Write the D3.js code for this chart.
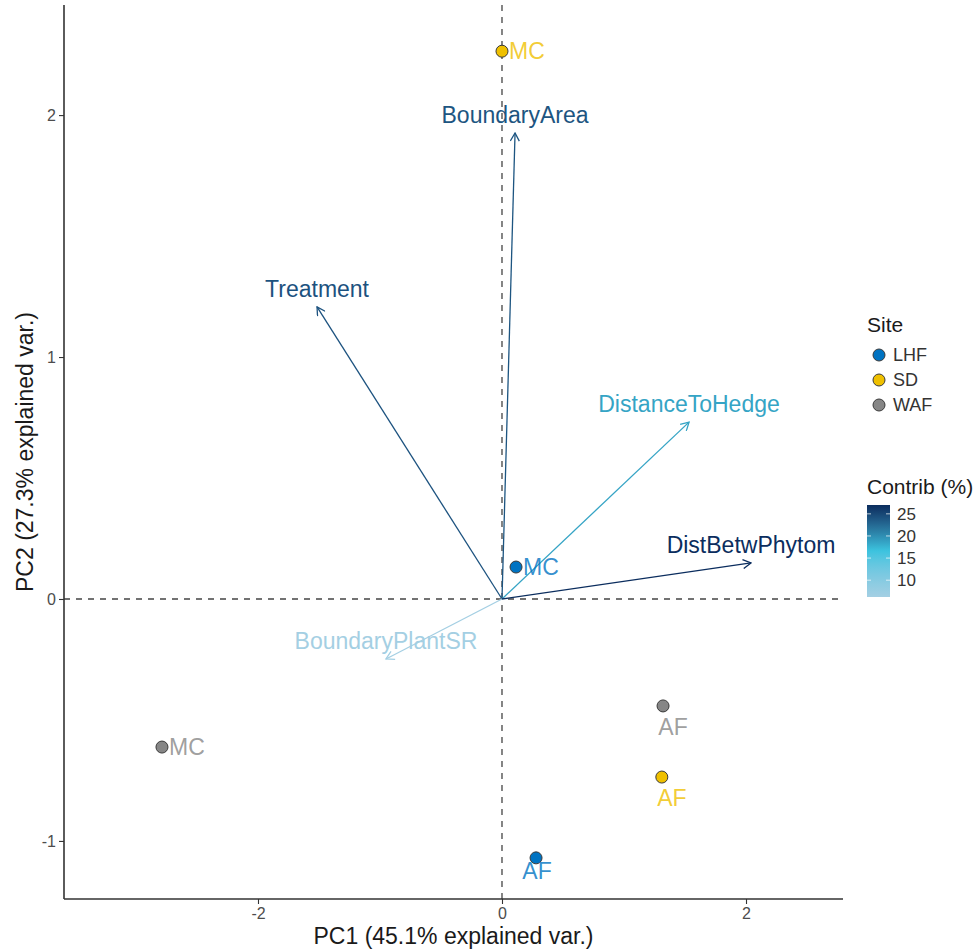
<!DOCTYPE html>
<html>
<head>
<meta charset="utf-8">
<script src="https://cdn.jsdelivr.net/npm/d3@7"></script>
<style>
  body { margin: 0; background: #fff; }
  text { font-family: "Liberation Sans", Arial, sans-serif; }
</style>
</head>
<body>
<div id="chart"></div>
<script>
// PCA biplot: individuals (sites x treatment) + variable arrows coloured by contribution

// individuals
const indLabels = ["MC", "MC", "MC", "AF", "AF", "AF"];
const indSites  = ["SD", "LHF", "WAF", "WAF", "SD", "LHF"];
const indPC1    = [0.00, 0.115, -2.787, 1.32, 1.31, 0.279];
const indPC2    = [2.264, 0.132, -0.612, -0.442, -0.736, -1.07];

// variables
const varNames   = ["BoundaryArea", "Treatment", "DistanceToHedge", "DistBetwPhytom", "BoundaryPlantSR"];
const varPC1     = [0.107, -1.516, 1.533, 2.041, -0.951];
const varPC2     = [1.926, 1.207, 0.731, 0.149, -0.248];
const varContrib = [24.0, 24.2, 18.6, 27.0, 6.2];

// legend / axes
const sites       = ["LHF", "SD", "WAF"];
const siteColors  = ["#0073C2", "#EFC000", "#868686"];
const xTicks      = [-2, 0, 2];
const yTicks      = [-1, 0, 1, 2];
const contribTicks = [10, 15, 20, 25];

const W = 979, H = 949;
const plot = { left: 64, right: 843, top: 5, bottom: 899 };

const svg = d3.select("#chart").append("svg")
  .attr("width", W).attr("height", H);

const x = d3.scaleLinear().domain([-3.59, 2.795]).range([plot.left, plot.right]);
const y = d3.scaleLinear().domain([-1.24, 2.455]).range([plot.bottom, plot.top]);

const siteColor = d3.scaleOrdinal().domain(sites).range(siteColors);

const cExtent = d3.extent(varContrib);
const contribColor = d3.scaleLinear()
  .domain([cExtent[0], (cExtent[0] + cExtent[1]) / 2, cExtent[1]])
  .range(["#a4cfe3", "#3cc3df", "#0b2d5e"])
  .interpolate(d3.interpolateLab);

// reference lines (dashed)
svg.append("line")
  .attr("x1", x(0)).attr("x2", x(0)).attr("y1", plot.top).attr("y2", plot.bottom)
  .attr("stroke", "#444").attr("stroke-width", 1.3).attr("stroke-dasharray", "6,6");
svg.append("line")
  .attr("x1", plot.left).attr("x2", plot.right).attr("y1", y(0)).attr("y2", y(0))
  .attr("stroke", "#444").attr("stroke-width", 1.3).attr("stroke-dasharray", "6,6");

// axes (hyphen minus like R output)
const xAxis = svg.append("g")
  .attr("transform", `translate(0,${plot.bottom})`)
  .call(d3.axisBottom(x).tickValues(xTicks).tickSize(5).tickFormat(d => String(d)));
const yAxis = svg.append("g")
  .attr("transform", `translate(${plot.left},0)`)
  .call(d3.axisLeft(y).tickValues(yTicks).tickSize(5).tickFormat(d => String(d)));

[xAxis, yAxis].forEach(g => {
  g.select(".domain").remove();
  g.selectAll(".tick line").attr("stroke", "#333").attr("stroke-width", 1.1);
  g.selectAll(".tick text").attr("fill", "#4d4d4d").style("font-size", "16px")
    .style("font-family", "'Liberation Sans', Arial, sans-serif");
});
xAxis.selectAll(".tick text").attr("dy", "0.75em");

svg.append("line")
  .attr("x1", plot.left).attr("x2", plot.left).attr("y1", plot.top).attr("y2", plot.bottom)
  .attr("stroke", "#333").attr("stroke-width", 1.6);
svg.append("line")
  .attr("x1", plot.left).attr("x2", plot.right).attr("y1", plot.bottom).attr("y2", plot.bottom)
  .attr("stroke", "#333").attr("stroke-width", 1.6);

// axis titles
svg.append("text")
  .attr("x", (plot.left + plot.right) / 2).attr("y", 944)
  .attr("text-anchor", "middle").style("font-size", "23px").attr("fill", "#1a1a1a")
  .text("PC1 (45.1% explained var.)");
svg.append("text")
  .attr("transform", `translate(33,${(plot.top + plot.bottom) / 2}) rotate(-90)`)
  .attr("text-anchor", "middle").style("font-size", "23px").attr("fill", "#1a1a1a")
  .text("PC2 (27.3% explained var.)");

// arrow markers, one per variable colour
const defs = svg.append("defs");
varNames.forEach((n, i) => {
  defs.append("marker")
    .attr("id", "arr" + i)
    .attr("viewBox", "0 -5 10 10")
    .attr("refX", 9).attr("refY", 0)
    .attr("markerWidth", 10).attr("markerHeight", 10)
    .attr("markerUnits", "userSpaceOnUse")
    .attr("orient", "auto")
    .append("path")
      .attr("d", "M1,-4.5L9,0L1,4.5")
      .attr("fill", "none")
      .attr("stroke", contribColor(varContrib[i]))
      .attr("stroke-width", 1.3);
});

// variable arrows
svg.selectAll("line.var")
  .data(varNames)
  .enter().append("line")
    .attr("class", "var")
    .attr("x1", x(0)).attr("y1", y(0))
    .attr("x2", (d, i) => x(varPC1[i]))
    .attr("y2", (d, i) => y(varPC2[i]))
    .attr("stroke", (d, i) => contribColor(varContrib[i]))
    .attr("stroke-width", 1.3)
    .attr("marker-end", (d, i) => `url(#arr${i})`);

svg.selectAll("text.var")
  .data(varNames)
  .enter().append("text")
    .attr("class", "var")
    .attr("x", (d, i) => x(varPC1[i]))
    .attr("y", (d, i) => y(varPC2[i]) - 10)
    .attr("text-anchor", "middle")
    .style("font-size", "23px")
    .attr("fill", (d, i) => contribColor(varContrib[i]))
    .text(d => d);

// individuals
const labelOffset = { MC: [7, 8, "start"], AF: [0, 29, "middle"] };
svg.selectAll("circle.ind")
  .data(indLabels)
  .enter().append("circle")
    .attr("class", "ind")
    .attr("cx", (d, i) => x(indPC1[i]))
    .attr("cy", (d, i) => y(indPC2[i]))
    .attr("r", 6)
    .attr("fill", (d, i) => siteColor(indSites[i]))
    .attr("stroke", "#3a3a3a").attr("stroke-width", 1);

svg.selectAll("text.ind")
  .data(indLabels)
  .enter().append("text")
    .attr("class", "ind")
    .attr("x", (d, i) => x(indPC1[i]) + labelOffset[d][0] + (i === 5 ? 1 : i >= 3 ? 10 : 0))
    .attr("y", (d, i) => y(indPC2[i]) + labelOffset[d][1] - (i === 5 ? 8 : 0))
    .attr("text-anchor", d => labelOffset[d][2])
    .style("font-size", "23px")
    .attr("fill", (d, i) => siteColor(indSites[i]))
    .attr("fill-opacity", 0.8)
    .text(d => d);

// legend: Site
const lg = svg.append("g").attr("transform", "translate(867,0)");
lg.append("text").attr("x", 0).attr("y", 332).style("font-size", "21px").attr("fill", "#1a1a1a").text("Site");
sites.forEach((s, i) => {
  lg.append("circle").attr("cx", 12).attr("cy", 355 + i * 25).attr("r", 6)
    .attr("fill", siteColor(s)).attr("stroke", "#3a3a3a").attr("stroke-width", 1);
  lg.append("text").attr("x", 26).attr("y", 361 + i * 25)
    .style("font-size", "18px").attr("fill", "#333").text(s);
});

// legend: Contrib colour bar
lg.append("text").attr("x", 0).attr("y", 494).style("font-size", "21px").attr("fill", "#1a1a1a").text("Contrib (%)");
const barTop = 505, barBottom = 597, barW = 23;
const cb = d3.scaleLinear().domain(cExtent).range([barBottom, barTop]);
const grad = defs.append("linearGradient").attr("id", "cgrad")
  .attr("x1", 0).attr("y1", 1).attr("x2", 0).attr("y2", 0);
d3.range(0, 1.0001, 0.05).forEach(t => {
  grad.append("stop").attr("offset", t)
    .attr("stop-color", contribColor(cExtent[0] + t * (cExtent[1] - cExtent[0])));
});
lg.append("rect").attr("x", 0).attr("y", barTop).attr("width", barW).attr("height", barBottom - barTop)
  .attr("fill", "url(#cgrad)");
contribTicks.forEach(v => {
  lg.append("line").attr("x1", 0).attr("x2", 4).attr("y1", cb(v)).attr("y2", cb(v))
    .attr("stroke", "#fff").attr("stroke-opacity", 0.7);
  lg.append("line").attr("x1", barW - 4).attr("x2", barW).attr("y1", cb(v)).attr("y2", cb(v))
    .attr("stroke", "#fff").attr("stroke-opacity", 0.7);
  lg.append("text").attr("x", barW + 7).attr("y", cb(v) + 6)
    .style("font-size", "17px").attr("fill", "#333").text(v);
});
</script>
</body>
</html>
